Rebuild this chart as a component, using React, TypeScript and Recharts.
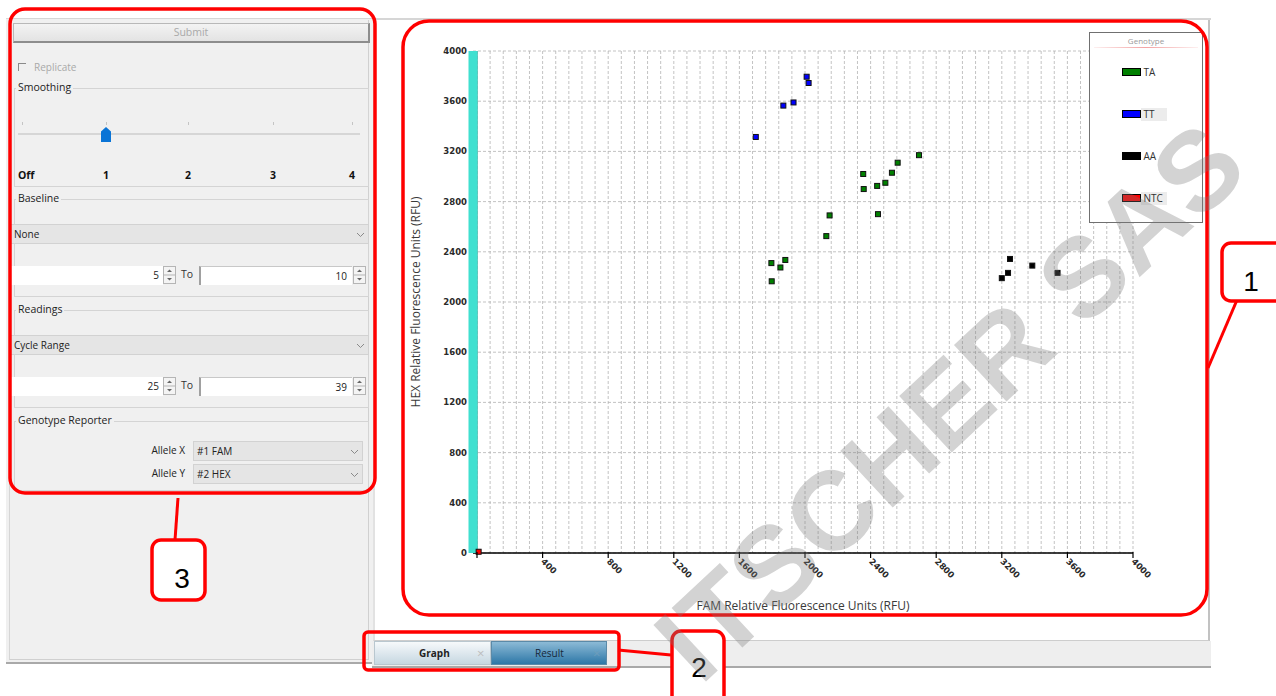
import React from 'react';
import {
  CartesianGrid,
  Legend,
  ReferenceLine,
  Scatter,
  ScatterChart,
  XAxis,
  YAxis,
} from 'recharts';

// FAM (x) vs HEX (y) end-point RFU
const TA_POINTS = [
  { x: 1795, y: 2310 },
  { x: 1797, y: 2165 },
  { x: 1850, y: 2275 },
  { x: 1880, y: 2335 },
  { x: 2130, y: 2525 },
  { x: 2150, y: 2690 },
  { x: 2355, y: 3020 },
  { x: 2358, y: 2900 },
  { x: 2440, y: 2925 },
  { x: 2445, y: 2700 },
  { x: 2490, y: 2950 },
  { x: 2530, y: 3030 },
  { x: 2565, y: 3110 },
  { x: 2695, y: 3170 },
];
const TT_POINTS = [
  { x: 1700, y: 3315 },
  { x: 1868, y: 3565 },
  { x: 1930, y: 3590 },
  { x: 2010, y: 3795 },
  { x: 2022, y: 3745 },
];
const AA_POINTS = [
  { x: 3200, y: 2190 },
  { x: 3238, y: 2232 },
  { x: 3250, y: 2343 },
  { x: 3386, y: 2290 },
  { x: 3540, y: 2232 },
];
const NTC_POINTS = [{ x: 10, y: 10 }];

const X_MAJOR_TICKS = [0, 400, 800, 1200, 1600, 2000, 2400, 2800, 3200, 3600, 4000];
const Y_TICKS = [0, 400, 800, 1200, 1600, 2000, 2400, 2800, 3200, 3600, 4000];
const MINOR_STEPS = 5; // dashed vertical grid every 80 RFU
const X_GRID_TICKS = X_MAJOR_TICKS.flatMap((t, i) =>
  i === 0
    ? [t]
    : Array.from({ length: MINOR_STEPS }, (_, k) => X_MAJOR_TICKS[i - 1] + ((t - X_MAJOR_TICKS[i - 1]) * (k + 1)) / MINOR_STEPS),
);

const SERIES = [
  { name: 'TA', color: '#008000', points: TA_POINTS },
  { name: 'TT', color: '#0000ff', points: TT_POINTS },
  { name: 'AA', color: '#000000', points: AA_POINTS },
  { name: 'NTC', color: '#ff0000', points: NTC_POINTS },
];
const SERIES_ORDER = SERIES.map((s) => s.name);
const HIGHLIGHTED_LEGEND = ['TT', 'NTC'];

const UI_FONT = '"Open Sans", "Noto Sans", sans-serif';
const TICK_FONT = '"DejaVu Sans", sans-serif';
const PANEL_BG = '#f0f0f0';
const RED = '#ff0000';

const box = (left: number, top: number, width: number, height: number): React.CSSProperties => ({
  position: 'absolute',
  left,
  top,
  width,
  height,
  boxSizing: 'border-box',
});

const square = (fill: string) => (p: any) => (
  <rect x={p.cx - 2.5} y={p.cy - 2.5} width={5} height={5} fill={fill} stroke="#111" strokeWidth={1} />
);

function XTick(props: any) {
  const { x, y, payload } = props;
  if (!X_MAJOR_TICKS.includes(payload.value)) return <g />;
  return (
    <g>
      <line x1={x} x2={x} y1={y - 1} y2={y + 5} stroke="#000" strokeWidth={1.2} />
      {payload.value !== 0 && (
        <text
          transform={`translate(${x - 2},${y + 9}) rotate(45)`}
          textAnchor="start"
          fontSize={8.5}
          fontWeight={700}
          fontFamily={TICK_FONT}
          fill="#2a2a2a"
        >
          {payload.value}
        </text>
      )}
    </g>
  );
}

function YTitle(props: any) {
  const vb = props.viewBox;
  const cx = vb.x + 39;
  const cy = vb.y + vb.height / 2;
  return (
    <text
      x={cx}
      y={cy}
      transform={`rotate(-90, ${cx}, ${cy})`}
      textAnchor="middle"
      dominantBaseline="central"
      fontSize={12}
      fontFamily={UI_FONT}
      fill="#3a3a3a"
    >
      HEX Relative Fluorescence Units (RFU)
    </text>
  );
}

function XTitle(props: any) {
  const vb = props.viewBox;
  return (
    <text
      x={vb.x + vb.width / 2}
      y={vb.y + 52}
      textAnchor="middle"
      dominantBaseline="central"
      fontSize={12}
      fontFamily={UI_FONT}
      fill="#3a3a3a"
    >
      FAM Relative Fluorescence Units (RFU)
    </text>
  );
}

function GenotypeLegend(props: any) {
  const items = [...(props.payload ?? [])].sort(
    (a: any, b: any) => SERIES_ORDER.indexOf(a.value) - SERIES_ORDER.indexOf(b.value),
  );
  return (
    <div
      style={{
        position: 'relative',
        width: 114,
        height: 191,
        border: '1.5px solid #707070',
        background: '#fff',
        boxSizing: 'border-box',
        fontFamily: UI_FONT,
      }}
    >
      <div style={{ position: 'absolute', left: 0, right: 0, top: 2, textAlign: 'center', fontSize: 8, color: '#9a9a9a' }}>
        Genotype
      </div>
      <div
        style={{
          position: 'absolute',
          left: 4,
          right: 4,
          top: 14,
          height: 1,
          background: 'linear-gradient(90deg, rgba(240,150,150,0.15), #f3a3a3, rgba(240,150,150,0.15))',
        }}
      />
      {items.map((it: any, i: number) => (
        <div
          key={it.value}
          style={{ position: 'absolute', left: 31.5, top: 33 + i * 42, height: 12, display: 'flex', alignItems: 'center' }}
        >
          <span style={{ width: 19, height: 8, background: it.color, border: '1px solid #000', boxSizing: 'border-box' }} />
          <span
            style={{
              minWidth: 26,
              padding: '0 2px 0 3px',
              boxSizing: 'border-box',
              fontSize: 10,
              lineHeight: '13px',
              color: '#333',
              background: HIGHLIGHTED_LEGEND.includes(it.value) ? '#ececec' : 'transparent',
            }}
          >
            {it.value}
          </span>
        </div>
      ))}
    </div>
  );
}

function Chevron({ left, top }: { left: number; top: number }) {
  return (
    <svg style={{ position: 'absolute', left, top }} width={9} height={6}>
      <polyline points="1,1 4.5,4.5 8,1" fill="none" stroke="#8a8a8a" strokeWidth={1} />
    </svg>
  );
}

function Spinner({ left, top }: { left: number; top: number }) {
  return (
    <svg style={{ position: 'absolute', left, top }} width={13} height={18}>
      <rect x={0.5} y={0.5} width={12} height={17} fill="#f4f4f4" stroke="#b5b5b5" />
      <line x1={0} x2={13} y1={9} y2={9} stroke="#b5b5b5" />
      <polygon points="4,6 9,6 6.5,3.5" fill="#666" />
      <polygon points="4,12 9,12 6.5,14.5" fill="#666" />
    </svg>
  );
}

function Group({ title, top, height }: { title: string; top: number; height: number }) {
  return (
    <>
      <div style={{ ...box(14, top, 355, height), border: '1px solid #d4d4d4' }} />
      <div
        style={{
          position: 'absolute',
          left: 16,
          top: top - 8,
          padding: '0 2px',
          background: PANEL_BG,
          fontSize: 10.5,
          lineHeight: '15px',
          color: '#222',
        }}
      >
        {title}
      </div>
    </>
  );
}

function Dropdown({ left, top, width, text }: { left: number; top: number; width: number; text: string }) {
  return (
    <div
      style={{
        ...box(left, top, width, 20),
        background: '#e5e5e5',
        border: '1px solid #d2d2d2',
        fontSize: 10,
        lineHeight: '18px',
        paddingLeft: 3,
        color: '#222',
      }}
    >
      {text}
      <Chevron left={width - 14} top={7} />
    </div>
  );
}

function SpinRow({ top, from, to }: { top: number; from: string; to: string }) {
  return (
    <>
      <div style={{ ...box(10, top, 153, 19), background: '#fff', fontSize: 10, lineHeight: '19px', textAlign: 'right', paddingRight: 4, color: '#222' }}>
        {from}
      </div>
      <Spinner left={163} top={top} />
      <div style={{ position: 'absolute', left: 181, top: top + 1, fontSize: 10.5, color: '#333' }}>To</div>
      <div
        style={{
          ...box(199, top, 153, 19),
          background: '#fff',
          borderLeft: '2px solid #a0a0a0',
          borderTop: '1px solid #c8c8c8',
          fontSize: 10,
          lineHeight: '18px',
          textAlign: 'right',
          paddingRight: 5,
          color: '#222',
        }}
      >
        {to}
      </div>
      <Spinner left={353} top={top} />
    </>
  );
}

const SLIDER_STOPS = [
  { label: 'Off', x: 22 },
  { label: '1', x: 106 },
  { label: '2', x: 188 },
  { label: '3', x: 273 },
  { label: '4', x: 352 },
];

function LeftPanel() {
  return (
    <>
      <div style={{ ...box(6, 19, 367, 645), background: PANEL_BG, borderBottom: '2px solid #a9a9a9' }} />
      <div style={{ ...box(9, 20, 360, 640), borderLeft: '1px solid #d6d6d6', borderRight: '1px solid #d0d0d0', borderBottom: '1px solid #d0d0d0' }} />

      <div
        style={{
          ...box(13, 23, 357, 20),
          background: 'linear-gradient(#f3f3f3, #e3e3e3)',
          border: '1px solid #b8b8b8',
          borderRight: '2px solid #8d8d8d',
          borderBottom: '2px solid #8d8d8d',
          fontSize: 10.5,
          lineHeight: '17px',
          textAlign: 'center',
          color: '#a9a9a9',
        }}
      >
        Submit
      </div>

      <div style={{ ...box(18, 63, 8, 8), borderTop: '1px solid #8a8a8a', borderLeft: '1px solid #8a8a8a' }} />
      <div style={{ position: 'absolute', left: 34, top: 60, fontSize: 10, color: '#a9a9a9' }}>Replicate</div>

      <Group title="Smoothing" top={88} height={99} />
      <div style={{ ...box(18, 133, 342, 2), background: '#d6d6d6' }} />
      {SLIDER_STOPS.map((s) => (
        <div key={s.label}>
          <div style={{ ...box(s.x, 122, 1, 3), background: '#c4c4c4' }} />
          <div
            style={{
              position: 'absolute',
              left: s.label === 'Off' ? 18 : s.x - 10,
              width: s.label === 'Off' ? undefined : 20,
              textAlign: 'center',
              top: 168,
              fontSize: 10.5,
              fontWeight: 700,
              color: '#111',
            }}
          >
            {s.label}
          </div>
        </div>
      ))}
      <div
        style={{
          ...box(101, 127, 10, 15),
          background: '#0a74d6',
          clipPath: 'polygon(50% 0, 100% 30%, 100% 100%, 0 100%, 0 30%)',
        }}
      />

      <Group title="Baseline" top={199} height={98} />
      <Dropdown left={10} top={224} width={359} text="None" />
      <SpinRow top={266} from="5" to="10" />

      <Group title="Readings" top={310} height={98} />
      <Dropdown left={10} top={335} width={359} text="Cycle Range" />
      <SpinRow top={377} from="25" to="39" />

      <Group title="Genotype Reporter" top={421} height={70} />
      <div style={{ position: 'absolute', left: 130, width: 55, textAlign: 'right', top: 443, fontSize: 10, color: '#222' }}>Allele X</div>
      <Dropdown left={193} top={441} width={170} text="#1 FAM" />
      <div style={{ position: 'absolute', left: 130, width: 55, textAlign: 'right', top: 466, fontSize: 10, color: '#222' }}>Allele Y</div>
      <Dropdown left={193} top={464} width={170} text="#2 HEX" />
    </>
  );
}

function Tabs() {
  return (
    <>
      <div
        style={{
          ...box(374, 641, 117, 24),
          background: 'linear-gradient(#f6f9fb, #c6d7e1)',
          border: '1px solid #b9c7cf',
          fontSize: 10,
          fontWeight: 700,
          lineHeight: '22px',
          color: '#222',
          paddingLeft: 44,
        }}
      >
        Graph
        <span style={{ position: 'absolute', left: 102, top: 0, fontWeight: 400, color: '#bdbdbd', fontSize: 13 }}>×</span>
      </div>
      <div
        style={{
          ...box(491, 641, 116, 24),
          background: 'linear-gradient(#8cbad6, #2d77a7)',
          border: '1px solid #5b8aa8',
          fontSize: 10,
          lineHeight: '22px',
          color: '#16283a',
          paddingLeft: 43,
        }}
      >
        Result
        <span style={{ position: 'absolute', left: 101, top: 0, color: '#6d9dbb', fontSize: 13 }}>×</span>
      </div>
    </>
  );
}

function Annotations() {
  const s = { fill: 'none', stroke: RED, strokeWidth: 3.5 };
  const callout = { fill: '#fff', stroke: RED, strokeWidth: 3.5 };
  const num = { fontSize: 28, fontFamily: '"Liberation Sans", Arial, sans-serif', fill: '#000', textAnchor: 'middle' as const };
  return (
    <svg style={{ position: 'absolute', left: 0, top: 0, pointerEvents: 'none' }} width={1276} height={696}>
      <rect x={10} y={9} width={365} height={484} rx={15} {...s} />
      <rect x={403} y={21} width={804} height={594} rx={26} {...s} />
      <rect x={364} y={632} width={255} height={38} rx={4} {...s} />

      <line x1={1237} y1={300} x2={1208} y2={368} stroke={RED} strokeWidth={3} />
      <rect x={1222} y={243} width={64} height={58} rx={9} {...callout} />
      <text x={1251} y={291} {...num}>1</text>

      <line x1={618} y1={650} x2={671} y2={655} stroke={RED} strokeWidth={3} />
      <rect x={672} y={631} width={52} height={80} rx={9} {...callout} />
      <text x={699} y={677} {...num}>2</text>

      <line x1={178} y1={498} x2={175} y2={540} stroke={RED} strokeWidth={3} />
      <rect x={152} y={540} width={53} height={60} rx={9} {...callout} />
      <text x={182} y={588} {...num}>3</text>
    </svg>
  );
}

function Watermark() {
  return (
    <div
      style={{
        position: 'absolute',
        left: 950,
        top: 402,
        transform: 'translate(-50%, -50%) rotate(-43deg)',
        whiteSpace: 'nowrap',
        fontFamily: '"Liberation Sans", Arial, sans-serif',
        fontWeight: 700,
        fontSize: 112,
        lineHeight: 1,
        color: 'rgba(120,120,120,0.33)',
        pointerEvents: 'none',
      }}
    >
      ITSCHER SAS
    </div>
  );
}

export default function App() {
  return (
    <div
      style={{
        position: 'absolute',
        left: 0,
        top: 0,
        width: 1276,
        height: 696,
        background: '#fff',
        overflow: 'hidden',
        fontFamily: UI_FONT,
      }}
    >
      <div style={{ ...box(6, 18, 1205, 2), background: '#d6d6d6' }} />
      <LeftPanel />
      <div style={{ ...box(373, 20, 837, 621), background: '#fff', borderLeft: '2px solid #e2e2e2', borderRight: '2px solid #c2c2c2', borderBottom: '1px solid #cdcdcd' }} />
      <div style={{ ...box(372, 641, 839, 27), background: '#eeeeee', borderBottom: '2px solid #a9a9a9' }} />
      <Tabs />

      <div style={{ position: 'absolute', left: 376, top: 20 }}>
        <ScatterChart width={834} height={600} margin={{ top: 31, right: 77, bottom: 7, left: 0 }}>
          <CartesianGrid stroke="#b4b4b4" strokeDasharray="3 2" strokeWidth={0.8} />
          <XAxis
            type="number"
            dataKey="x"
            domain={[0, 4000]}
            ticks={X_GRID_TICKS}
            interval={0}
            padding={{ left: 4, right: 0 }}
            height={60}
            tickSize={0}
            tickMargin={0}
            tickLine={false}
            tick={<XTick />}
            axisLine={{ stroke: '#000', strokeWidth: 1.5 }}
            label={<XTitle />}
          />
          <YAxis
            type="number"
            dataKey="y"
            domain={[0, 4000]}
            ticks={Y_TICKS}
            interval={0}
            width={97}
            tickSize={2}
            tickMargin={4}
            tickLine={false}
            tick={{ fontSize: 8.5, fontWeight: 700, fill: '#2a2a2a', fontFamily: TICK_FONT }}
            axisLine={{ stroke: '#40e0d0', strokeWidth: 9 }}
            label={<YTitle />}
          />
          <ReferenceLine x={0} stroke="#1f7a70" strokeWidth={1} ifOverflow="visible" />
          {SERIES.map((s) => (
            <Scatter
              key={s.name}
              name={s.name}
              data={s.points}
              fill={s.color}
              legendType="rect"
              shape={square(s.color)}
              isAnimationActive={false}
            />
          ))}
          <Legend
            content={<GenotypeLegend />}
            layout="horizontal"
            verticalAlign="middle"
            align="center"
            wrapperStyle={{ left: 713, top: 12, width: 114, height: 191 }}
          />
        </ScatterChart>
      </div>

      <Annotations />
      <Watermark />
    </div>
  );
}
